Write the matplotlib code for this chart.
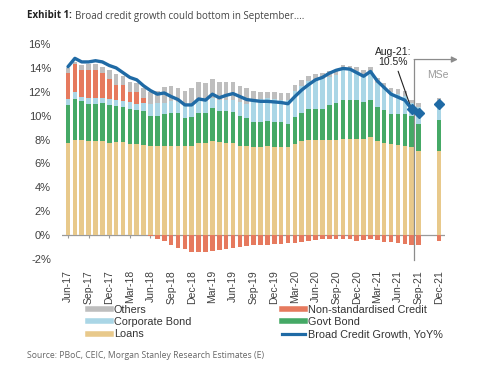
import numpy as np
import pandas as pd
import matplotlib
matplotlib.use("Agg")
import matplotlib.pyplot as plt
from matplotlib.lines import Line2D

plt.rcParams['font.family'] = ['Liberation Sans', 'DejaVu Sans']

# ---------------- data ----------------
all_months = pd.period_range('2017-06', '2021-12', freq='M')
month_labels = [p.strftime('%b-%y') for p in all_months]

bar_months = month_labels[:52] + ['Dec-21']

loans = [7.7, 8.0, 8.0, 7.9, 7.9, 7.9, 7.7, 7.8, 7.8, 7.6, 7.6, 7.55,
         7.5, 7.45, 7.5, 7.5, 7.5, 7.5, 7.5, 7.75, 7.7, 7.9, 7.8, 7.75,
         7.75, 7.5, 7.45, 7.4, 7.4, 7.45, 7.4, 7.35, 7.35, 7.6, 7.85, 7.95,
         7.95, 7.95, 7.95, 8.0, 8.05, 8.05, 8.05, 8.05, 8.2, 7.85, 7.7, 7.6,
         7.55, 7.5, 7.4, 7.05, 7.05]
govt_bond = [3.2, 3.4, 3.2, 3.1, 3.1, 3.2, 3.2, 3.0, 2.9, 3.0, 2.85, 2.8,
             2.5, 2.55, 2.6, 2.7, 2.7, 2.3, 2.4, 2.45, 2.5, 2.7, 2.55, 2.6,
             2.55, 2.5, 2.35, 2.1, 2.05, 2.1, 2.1, 2.15, 1.95, 2.3, 2.35, 2.65,
             2.65, 2.65, 2.95, 3.1, 3.25, 3.25, 3.25, 3.1, 3.1, 2.85, 2.75, 2.55,
             2.55, 2.6, 2.55, 2.25, 2.55]
corp_bond = [0.5, 0.6, 0.4, 0.45, 0.45, 0.4, 0.5, 0.5, 0.5, 0.55, 0.55, 0.75,
             1.0, 1.1, 1.0, 1.0, 0.95, 1.2, 1.15, 1.1, 1.0, 0.9, 1.0, 1.0,
             1.0, 1.15, 1.2, 1.9, 1.95, 1.9, 1.9, 1.85, 2.05, 2.2, 2.3, 2.3,
             2.4, 2.5, 2.35, 2.3, 2.5, 2.5, 2.4, 2.3, 2.4, 2.0, 1.85, 1.8,
             1.7, 1.55, 1.1, 1.45, 1.45]
non_std = [2.2, 2.3, 2.2, 2.4, 2.4, 2.05, 1.7, 1.3, 1.4, 0.8, 0.95, 0.4,
           -0.1, -0.3, -0.5, -0.85, -1.05, -1.2, -1.4, -1.4, -1.4, -1.35, -1.25, -1.15,
           -1.05, -1.0, -0.9, -0.8, -0.8, -0.8, -0.75, -0.75, -0.7, -0.7, -0.6, -0.5,
           -0.4, -0.35, -0.3, -0.3, -0.3, -0.35, -0.5, -0.45, -0.3, -0.4, -0.55, -0.6,
           -0.7, -0.75, -0.8, -0.85, -0.5]
others = [0.4, 0.2, 0.4, 0.45, 0.5, 0.55, 0.7, 0.9, 0.7, 0.9, 0.75, 0.8,
          1.0, 1.0, 1.3, 1.25, 1.15, 1.1, 1.3, 1.5, 1.55, 1.6, 1.45, 1.5,
          1.5, 1.35, 1.3, 0.65, 0.6, 0.55, 0.55, 0.55, 0.55, 0.5, 0.5, 0.4,
          0.45, 0.45, 0.45, 0.45, 0.4, 0.35, 0.35, 0.35, 0.35, 0.45, 0.45, 0.4,
          0.4, 0.4, 0.3, 0.35, 0.4]

credit_growth = [14.1, 14.8, 14.5, 14.5, 14.6, 14.5, 14.2, 14.0, 13.6, 13.2, 13.0, 12.5,
                 12.1, 11.8, 11.9, 11.6, 11.35, 10.9, 10.9, 11.4, 11.3, 11.8, 11.5, 11.7,
                 11.85, 11.6, 11.35, 11.27, 11.2, 11.2, 11.15, 11.1, 11.0, 11.6, 12.15, 12.6,
                 13.0, 13.2, 13.55, 13.8, 13.95, 13.9, 13.6, 13.3, 13.7, 12.9, 12.35, 11.8,
                 11.55, 11.3, 10.55, 10.2]
growth_dec21 = 11.0

marker_months = ['Aug-21', 'Sep-21']
xtick_labels = month_labels[::3]

# ---------------- style ----------------
c_loans = '#E8C98B'
c_govt = '#45A966'
c_corp = '#AAD6E6'
c_nonstd = '#E67A5E'
c_others = '#BEBEBE'
c_line = '#1F6AA5'
c_text = '#404040'

fig = plt.figure(figsize=(5.0, 3.68), dpi=100)
ax = fig.add_axes([62/500, 1-259/368, (445-62)/500, (259-44)/368])

pos = {m: i for i, m in enumerate(month_labels)}
x = np.array([pos[m] for m in bar_months], dtype=float)
loans_a = np.array(loans)
govt_a = np.array(govt_bond)
corp_a = np.array(corp_bond)
ns_a = np.array(non_std)
oth_a = np.array(others)

w = 0.66
b1 = loans_a
b2 = b1 + govt_a
b3 = b2 + corp_a
ns_pos = np.where(ns_a > 0, ns_a, 0)
ns_neg = np.where(ns_a < 0, ns_a, 0)
b4 = b3 + ns_pos

ax.bar(x, loans_a, w, color=c_loans, zorder=2)
ax.bar(x, govt_a, w, bottom=b1, color=c_govt, zorder=2)
ax.bar(x, corp_a, w, bottom=b2, color=c_corp, zorder=2)
ax.bar(x, ns_pos, w, bottom=b3, color=c_nonstd, zorder=2)
ax.bar(x, ns_neg, w, color=c_nonstd, zorder=2)
ax.bar(x, oth_a, w, bottom=b4, color=c_others, zorder=2)

# zero line and small ticks
ax.axhline(0, color='#9a9a9a', lw=0.9, zorder=1)
tick_pos = np.arange(0, len(month_labels), 3)
ax.vlines(tick_pos, -0.28, 0, color='#9a9a9a', lw=0.8, zorder=1)

# line
xl = np.arange(len(credit_growth))
ax.plot(xl, credit_growth, color=c_line, lw=2.4, zorder=4, solid_capstyle='round')
mx = [pos[m] for m in marker_months] + [pos['Dec-21']]
my = [credit_growth[pos[m]] for m in marker_months] + [growth_dec21]
ax.plot(mx, my, ls='none', marker='D', ms=5.5, color=c_line, zorder=5)

# forecast divider
xd = 50.4
ax.plot([xd, xd], [-2.1, 14.7], color='#8c8c8c', lw=0.9, zorder=3, clip_on=False)
ax.annotate('', xy=(56.7, 14.7), xytext=(xd - 0.05, 14.7),
            arrowprops=dict(arrowstyle='-|>', color='#8c8c8c', lw=0.9, mutation_scale=9,
                            shrinkA=0, shrinkB=0),
            annotation_clip=False)
ax.text(53.8, 13.4, 'MSe', color='#9a9a9a', fontsize=7.5, ha='center', va='center')
ax.annotate('Aug-21:\n10.5%', xy=(pos['Aug-21'] - 0.1, credit_growth[pos['Aug-21']] + 0.1),
            xytext=(47.3, 14.9), ha='center', va='center', fontsize=7.5, color='#222222',
            linespacing=1.0,
            arrowprops=dict(arrowstyle='-', color='#222222', lw=0.8, shrinkA=1, shrinkB=2))

ax.set_xlim(-0.873, 54.84)
ax.set_ylim(-2, 16)
ax.set_yticks(np.arange(-2, 17, 2))
ax.set_yticklabels([f'{v}%' for v in range(-2, 17, 2)], fontsize=8, color=c_text)
ax.set_xticks(tick_pos)
ax.set_xticklabels(xtick_labels, rotation=90, fontsize=7.5, color=c_text)
ax.tick_params(axis='both', length=0)
ax.tick_params(axis='x', pad=8)
ax.tick_params(axis='y', pad=8)
for s in ax.spines.values():
    s.set_visible(False)

# legend
handles = [
    Line2D([], [], color=c_others, lw=4),
    Line2D([], [], color=c_corp, lw=4),
    Line2D([], [], color=c_loans, lw=4),
    Line2D([], [], color=c_nonstd, lw=4),
    Line2D([], [], color=c_govt, lw=4),
    Line2D([], [], color=c_line, lw=2.3),
]
labels = ['Others', 'Corporate Bond', 'Loans', 'Non-standardised Credit', 'Govt Bond',
          'Broad Credit Growth, YoY%']
fig.legend(handles, labels, ncol=2, loc='upper left', bbox_to_anchor=(88/500, 1-305/368),
           frameon=False, fontsize=7.8, handlelength=2.1, handletextpad=0.3,
           columnspacing=8.4, labelspacing=0.2, borderpad=0, borderaxespad=0,
           labelcolor='#333333')

# title and source
t1 = fig.text(27/500, 1-16/368, 'Exhibit 1:', fontsize=7, fontweight='bold', family='Open Sans',
              color='#222222', va='center', ha='left')
fig.canvas.draw()
bb = t1.get_window_extent(renderer=fig.canvas.get_renderer())
x2 = (bb.x1 + 3) / fig.bbox.width
fig.text(x2, 1-16/368, 'Broad credit growth could bottom in September....', fontsize=7,
         family='Open Sans', color='#444444', va='center', ha='left')
fig.text(27/500, 1-355/368, 'Source: PBoC, CEIC, Morgan Stanley Research Estimates (E)',
         fontsize=6.2, family='Open Sans', color='#666666', va='center', ha='left')

fig.savefig('out.png', dpi=100)
